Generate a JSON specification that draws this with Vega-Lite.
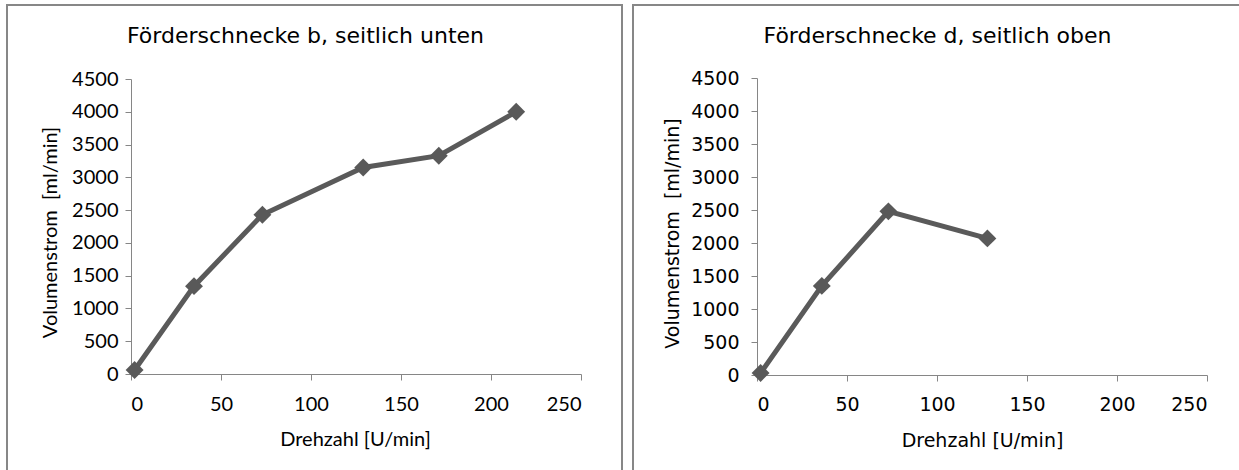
{
  "$schema": "https://vega.github.io/schema/vega-lite/v6.json",
  "padding": {"left": 6, "top": 4, "right": 0, "bottom": 0},
  "spacing": 9,
  "background": "white",
  "config": {
    "view": {"stroke": "#878787", "strokeWidth": 2},
    "axis": {"grid": false, "domainColor": "#868686", "tickColor": "#868686", "tickSize": 6, "labelColor": "black", "titleColor": "black", "titleFontWeight": "normal", "labelOverlap": false, "format": "d"}
  },
  "hconcat": [
    {
      "width": 615,
      "height": 470,
      "title": {"text": "Förderschnecke b, seitlich unten", "font": "DejaVu Sans", "fontSize": 22, "fontWeight": "normal", "color": "black", "anchor": "middle", "frame": "group", "offset": -60, "baseline": "alphabetic", "dx": -9},
      "data": {"values": [
        {"drehzahl": 2, "volumenstrom": 60},
        {"drehzahl": 35, "volumenstrom": 1340},
        {"drehzahl": 73, "volumenstrom": 2430},
        {"drehzahl": 129, "volumenstrom": 3150},
        {"drehzahl": 171, "volumenstrom": 3330},
        {"drehzahl": 214, "volumenstrom": 4000}
      ]},
      "encoding": {
        "x": {"field": "drehzahl", "type": "quantitative",
          "scale": {"domain": [0, 250], "range": [124, 574], "nice": false, "zero": false},
          "axis": {"title": "Drehzahl [U/min]", "offset": -101, "values": [0, 50, 100, 150, 200, 250],
            "labelFont": "Lato", "labelFontSize": 20, "labelPadding": 14,
            "titleFont": "Lato", "titleFontSize": 20, "titleX": 348, "titleY": 71, "titleBaseline": "alphabetic"}},
        "y": {"field": "volumenstrom", "type": "quantitative",
          "scale": {"domain": [0, 4500], "range": [369, 74], "nice": false, "zero": false},
          "axis": {"title": "Volumenstrom\u00a0 [ml/min]", "offset": -124, "values": [0, 500, 1000, 1500, 2000, 2500, 3000, 3500, 4000, 4500],
            "labelFont": "Lato", "labelFontSize": 20, "labelPadding": 7,
            "titleFont": "Lato", "titleFontSize": 20, "titleX": -75, "titleY": 227, "titleBaseline": "alphabetic", "titleAngle": -90}}
      },
      "layer": [
        {"mark": {"type": "line", "color": "#5a5a5a", "strokeWidth": 5}},
        {"mark": {"type": "point", "shape": "diamond", "filled": true, "size": 320, "color": "#595959", "opacity": 1}}
      ]
    },
    {
      "width": 615,
      "height": 470,
      "title": {"text": "Förderschnecke d, seitlich oben", "font": "DejaVu Sans", "fontSize": 22, "fontWeight": "normal", "color": "black", "anchor": "middle", "frame": "group", "offset": -60, "baseline": "alphabetic", "dx": -3},
      "data": {"values": [
        {"drehzahl": 2, "volumenstrom": 30},
        {"drehzahl": 36, "volumenstrom": 1350},
        {"drehzahl": 73, "volumenstrom": 2480},
        {"drehzahl": 128, "volumenstrom": 2070}
      ]},
      "encoding": {
        "x": {"field": "drehzahl", "type": "quantitative",
          "scale": {"domain": [0, 250], "range": [124, 574], "nice": false, "zero": false},
          "axis": {"title": "Drehzahl [U/min]", "offset": -100, "values": [0, 50, 100, 150, 200, 250],
            "labelFont": "DejaVu Sans", "labelFontSize": 19, "labelPadding": 14,
            "titleFont": "DejaVu Sans", "titleFontSize": 19, "titleX": 349, "titleY": 71, "titleBaseline": "alphabetic"}},
        "y": {"field": "volumenstrom", "type": "quantitative",
          "scale": {"domain": [0, 4500], "range": [370, 73], "nice": false, "zero": false},
          "axis": {"title": "Volumenstrom\u00a0 [ml/min]", "offset": -124, "values": [0, 500, 1000, 1500, 2000, 2500, 3000, 3500, 4000, 4500],
            "labelFont": "DejaVu Sans", "labelFontSize": 19, "labelPadding": 12,
            "titleFont": "DejaVu Sans", "titleFontSize": 19, "titleX": -79, "titleY": 228, "titleBaseline": "alphabetic", "titleAngle": -90}}
      },
      "layer": [
        {"mark": {"type": "line", "color": "#5a5a5a", "strokeWidth": 5}},
        {"mark": {"type": "point", "shape": "diamond", "filled": true, "size": 320, "color": "#595959", "opacity": 1}}
      ]
    }
  ]
}
